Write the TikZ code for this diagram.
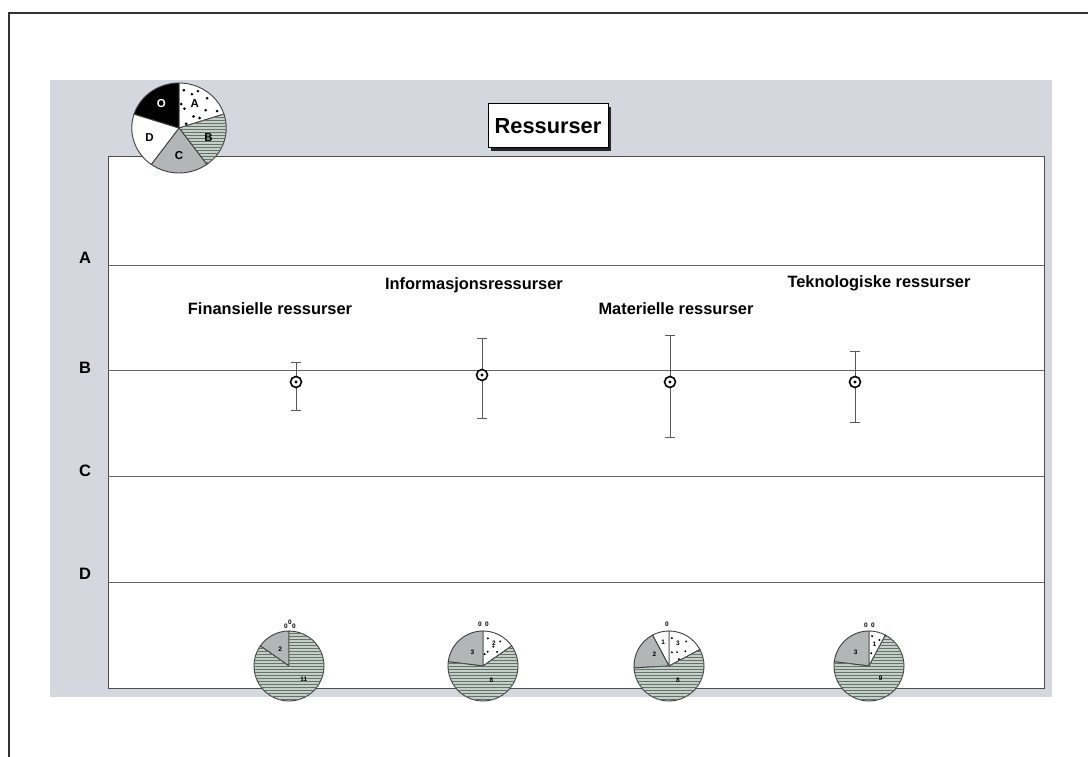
\documentclass[tikz,border=0pt]{standalone}
\usepackage{fontspec}
\setmainfont{Liberation Sans}
\usetikzlibrary{patterns,calc}
\definecolor{panel}{RGB}{212,215,221}
\definecolor{sage}{RGB}{196,208,199}
\definecolor{sagel}{RGB}{100,115,105}
\definecolor{midgray}{RGB}{178,182,182}
\newcommand\pieslice[6]{\path[#6] (#1,#2) -- ++(#4:#3pt) arc[start angle=#4,end angle=#5,radius=#3pt] -- cycle;}
\newcommand\errbar[4]{%
  \draw[ebar] (#1,#3) -- (#1,#2);
  \draw[ebar] (#1-5,#2) -- (#1+5,#2);
  \draw[ebar] (#1-5,#3) -- (#1+5,#3);
  \draw[mk] (#1,#4) circle (5.5pt);
  \fill[black] (#1,#4) circle (1.6pt);}
\begin{document}
\begin{tikzpicture}[x=1pt,y=1pt,
  axl/.style={font=\bfseries\fontsize{16.5}{18}\selectfont},
  catl/.style={font=\bfseries\fontsize{16.4}{18}\selectfont},
  gridl/.style={draw=black!60, line width=0.8pt},
  ebar/.style={draw=black!65, line width=0.9pt},
  mk/.style={draw=black, line width=1.6pt, fill=white},
  pieout/.style={draw=black!75, line width=0.9pt},
  linesec/.style={fill=sage, postaction={pattern=horizontal lines, pattern color=sagel}, pieout},
  graysec/.style={fill=midgray, pieout},
  whitesec/.style={fill=white, pieout},
  dotsec/.style={fill=white, pieout},
  blacksec/.style={fill=black, pieout},
  pl/.style={font=\bfseries\fontsize{11.5}{12}\selectfont},
  tn/.style={font=\bfseries\fontsize{6.5}{7}\selectfont, inner sep=0pt},
  dot/.style={fill=black}
]
\useasboundingbox (0,0) rectangle (1088,757);
\clip (0,0) rectangle (1088,757);
\fill[white] (0,0) rectangle (1088,757);
% outer frame
\draw[line width=1.5pt, black!80] (9,-20) -- (9,744) -- (1100,744);
% panel
\fill[panel] (50,60) rectangle (1052,677);
\draw[fill=white, draw=black!70, line width=0.9pt] (108,69) rectangle (1044,601);
% grid
\foreach \yy in {175,281,387,492} \draw[gridl] (108,\yy) -- (1044,\yy);
\node[axl] (la) at (85,499) {A};
\node[axl] (lb) at (85,389) {B};
\node[axl] (lc) at (85,286) {C};
\node[axl] (ld) at (85,183) {D};
% title
\fill[black!85] (491,606) rectangle (611,650);
\draw[fill=white, line width=1pt] (488,609) rectangle (608,653);
\node[font=\bfseries\fontsize{21.8}{24}\selectfont] (title) at (548,631) {Ressurser};
% legend pie
\begin{scope}[xscale=1.05]
\pieslice{170.5}{629}{45}{18}{90}{dotsec}
\pieslice{170.5}{629}{45}{-54}{18}{linesec}
\pieslice{170.5}{629}{45}{-126}{-54}{graysec}
\pieslice{170.5}{629}{45}{162}{234}{whitesec}
\pieslice{170.5}{629}{45}{90}{162}{blacksec}
\foreach \a/\r in {83/38,75/20,48/40,35/31,25/40,40/18,64/41,85/24,27/22,70/36,32/8}
  \fill[dot] (170.5,629) ++(\a:\r pt) circle (1.4pt);
\end{scope}
\node[pl, text=white] (po) at ($(179,629)+(126:30pt)$) {O};
\node[pl] (pa) at ($(179,629)+(57:29pt)$) {A};
\node[pl] (pb) at ($(179,629)+(-18:31pt)$) {B};
\node[pl] (pc) at ($(179,629)+(-90:28pt)$) {C};
\node[pl] (pd) at ($(179,629)+(198:31pt)$) {D};
% category labels
\node[catl] (c1) at (270,448) {Finansielle ressurser};
\node[catl] (c2) at (474,472) {Informasjonsressurser};
\node[catl] (c3) at (676,448) {Materielle ressurser};
\node[catl] (c4) at (879,474) {Teknologiske ressurser};
% error bars
\errbar{296}{395}{347}{375}
\errbar{482}{419}{339}{382}
\errbar{670}{422}{320}{375}
\errbar{855}{406}{335}{375}
% bottom pie 1
\pieslice{289}{91}{35}{90}{145}{graysec}
\pieslice{289}{91}{35}{145}{450}{linesec}
\node[tn] (p1a) at ($(289,91)+(118:19pt)$) {2};
\node[tn] (p1b) at ($(289,91)+(-42:20pt)$) {11};
\node[tn] (p1z1) at (286,131) {0};
\node[tn] (p1z2) at (290,135) {0};
\node[tn] (p1z3) at (294,131) {0};
% bottom pie 2
\pieslice{483}{91}{35}{35}{90}{dotsec}
\pieslice{483}{91}{35}{90}{173}{graysec}
\pieslice{483}{91}{35}{173}{395}{linesec}
\foreach \a/\r in {80/28,72/15,55/30,45/20,62/22,82/12}
  \fill[dot] (483,91) ++(\a:\r pt) circle (1.1pt);
\node[tn] (p2a) at ($(483,91)+(64:25pt)$) {2};
\node[tn] (p2b) at ($(483,91)+(128:17pt)$) {3};
\node[tn] (p2c) at ($(483,91)+(-60:17pt)$) {8};
\node[tn] (p2z1) at (480,133) {0};
\node[tn] (p2z2) at (487,133) {0};
% bottom pie 3
\pieslice{669}{91}{35}{28}{90}{dotsec}
\pieslice{669}{91}{35}{90}{118}{whitesec}
\pieslice{669}{91}{35}{118}{183}{graysec}
\pieslice{669}{91}{35}{183}{388}{linesec}
\foreach \a/\r in {84/28,78/14,55/30,42/22,60/16,35/12}
  \fill[dot] (669,91) ++(\a:\r pt) circle (1.1pt);
\node[tn] (p3a) at ($(669,91)+(104:24pt)$) {1};
\node[tn] (p3b) at ($(669,91)+(68:24pt)$) {3};
\node[tn] (p3c) at ($(669,91)+(140:19pt)$) {2};
\node[tn] (p3d) at ($(669,91)+(-58:17pt)$) {8};
\node[tn] (p3z) at (667,133) {0};
% bottom pie 4
\pieslice{869}{91}{35}{62}{90}{dotsec}
\pieslice{869}{91}{35}{90}{173}{graysec}
\pieslice{869}{91}{35}{173}{422}{linesec}
\foreach \a/\r in {84/30,80/13,68/28}
  \fill[dot] (869,91) ++(\a:\r pt) circle (1.1pt);
\node[tn] (p4a) at ($(869,91)+(76:22pt)$) {1};
\node[tn] (p4b) at ($(869,91)+(135:19pt)$) {3};
\node[tn] (p4c) at ($(869,91)+(-47:17pt)$) {9};
\node[tn] (p4z1) at (866,132) {0};
\node[tn] (p4z2) at (873,132) {0};
\end{tikzpicture}
\end{document}
